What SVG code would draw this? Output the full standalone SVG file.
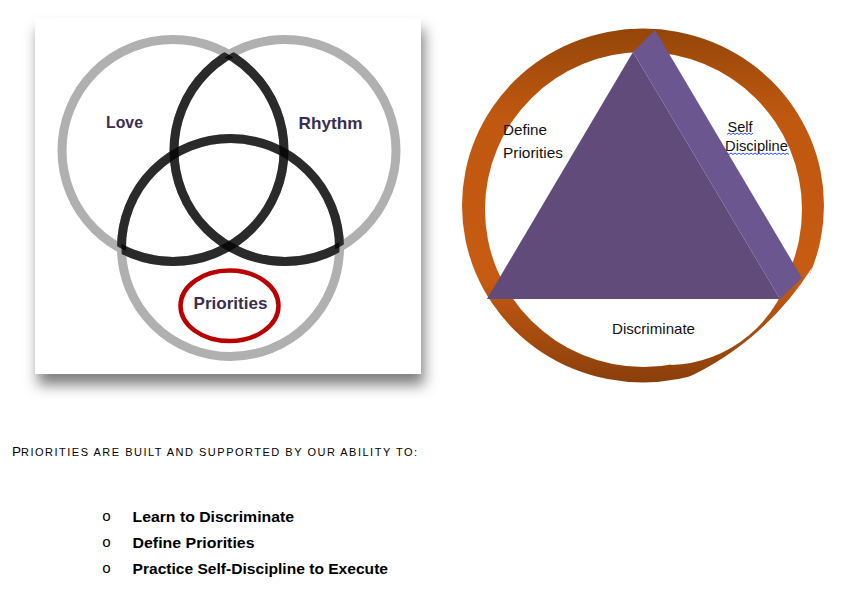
<svg xmlns="http://www.w3.org/2000/svg" width="863" height="589" viewBox="0 0 863 589">
<style>
.gray{fill:none;stroke:#b0b0b0;stroke-width:9}
.dark{fill:none;stroke:#000;stroke-opacity:0.76;stroke-width:9}
.vlabel{font-family:"Liberation Sans",Arial,sans-serif;font-weight:bold;font-size:17px;fill:#3a2e50}
.tlabel{font-family:"Liberation Sans",Arial,sans-serif;font-size:14.5px;fill:#111}
.wavy{fill:none;stroke:#2b4cf0;stroke-width:1}
.bullet{font-family:"Liberation Sans",Arial,sans-serif;font-weight:bold;font-size:15.5px;fill:#000}
.dot{font-family:"Liberation Mono","Courier New",monospace;font-size:15px;fill:#000}
</style>
<defs>
<filter id="shadow" x="-10%" y="-10%" width="125%" height="135%">
<feDropShadow dx="3" dy="11" stdDeviation="7" flood-color="#000" flood-opacity="0.5"/>
</filter>
<clipPath id="clipL"><circle cx="285" cy="150.5" r="111"/><circle cx="230.5" cy="247.5" r="109"/></clipPath>
<clipPath id="clipR"><circle cx="173" cy="150.5" r="111"/><circle cx="230.5" cy="247.5" r="109"/></clipPath>
<clipPath id="clipP"><circle cx="173" cy="150.5" r="111"/><circle cx="285" cy="150.5" r="111"/></clipPath>
<linearGradient id="ringGrad" x1="0" y1="0" x2="0" y2="1">
<stop offset="0" stop-color="#944608"/>
<stop offset="0.25" stop-color="#c05810"/>
<stop offset="0.7" stop-color="#c75b12"/>
<stop offset="1" stop-color="#8a3f0b"/>
</linearGradient>
</defs>
<rect width="863" height="589" fill="#fff"/>

<g id="venn-panel">
<rect x="35" y="18" width="386" height="356" fill="#fff" filter="url(#shadow)"/>
</g>

<g id="venn-love">
<circle class="gray" cx="173" cy="150.5" r="111"/>
</g>
<g id="venn-rhythm">
<circle class="gray" cx="285" cy="150.5" r="111"/>
</g>
<g id="venn-priorities">
<circle class="gray" cx="230.5" cy="247.5" r="109"/>
</g>
<g id="venn-overlaps">
<circle class="dark" cx="173" cy="150.5" r="111" clip-path="url(#clipL)"/>
<circle class="dark" cx="285" cy="150.5" r="111" clip-path="url(#clipR)"/>
<circle class="dark" cx="230.5" cy="247.5" r="109" clip-path="url(#clipP)"/>
</g>
<g id="label-love"><text class="vlabel" x="106" y="127.5" textLength="37" lengthAdjust="spacingAndGlyphs">Love</text></g>
<g id="label-rhythm"><text class="vlabel" x="298.5" y="128.5" textLength="64" lengthAdjust="spacingAndGlyphs">Rhythm</text></g>
<g id="label-priorities">
<ellipse cx="229.5" cy="305.8" rx="49" ry="35.3" fill="none" stroke="#bb0000" stroke-width="4.5"/>
<text class="vlabel" x="193.5" y="308.5" textLength="74" lengthAdjust="spacingAndGlyphs">Priorities</text>
</g>

<g id="ring">
<path fill="url(#ringGrad)" fill-rule="evenodd" d="M462,205.5 a181,177 0 1,0 362,0 a181,177 0 1,0 -362,0 Z M485,209.5 a158.5,157.5 0 1,0 317,0 a158.5,157.5 0 1,0 -317,0 Z"/>
<path fill="#fff" d="M812.1,267.6 A160,160 0 0,1 674.3,383.3 A294,294 0 0,0 812.1,267.6 Z"/>
<path fill="#fff" d="M792,263.5 A128,128 0 0,1 670.9,365.1 A182,182 0 0,1 792,263.5 Z"/>
</g>

<g id="triangle">
<polygon points="487,299 633,52 780,299" fill="#604b7b"/>
<polygon points="655,30 802,278 780,299 633,52" fill="#6b5690"/>
</g>

<g id="label-define"><text class="tlabel" x="503" y="134.5" textLength="44" lengthAdjust="spacingAndGlyphs">Define</text>
<text class="tlabel" x="503" y="157.5" textLength="60" lengthAdjust="spacingAndGlyphs">Priorities</text></g>
<g id="label-self">
<text class="tlabel" x="727.5" y="131.5" textLength="25" lengthAdjust="spacingAndGlyphs">Self</text>
<text class="tlabel" x="725" y="151" textLength="63" lengthAdjust="spacingAndGlyphs">Discipline</text>
<path class="wavy" d="M727,134.5 l2,-1.5 l2,1.5 l2,-1.5 l2,1.5 l2,-1.5 l2,1.5 l2,-1.5 l2,1.5 l2,-1.5 l2,1.5 l2,-1.5 l2,1.5 l2,-1.5"/>
<path class="wavy" d="M725,154.5 l2,-1.5 l2,1.5 l2,-1.5 l2,1.5 l2,-1.5 l2,1.5 l2,-1.5 l2,1.5 l2,-1.5 l2,1.5 l2,-1.5 l2,1.5 l2,-1.5 l2,1.5 l2,-1.5 l2,1.5 l2,-1.5 l2,1.5 l2,-1.5 l2,1.5 l2,-1.5 l2,1.5 l2,-1.5 l2,1.5 l2,-1.5 l2,1.5 l2,-1.5 l2,1.5 l2,-1.5 l2,1.5 l2,-1.5 l2,1.5"/>
</g>
<g id="label-discriminate"><text class="tlabel" x="612" y="333.5" textLength="83" lengthAdjust="spacingAndGlyphs">Discriminate</text></g>

<g id="connectors"/>

<g id="caption">
<text x="12" y="456" font-family="Liberation Sans, Arial, sans-serif" fill="#000"><tspan font-size="13.5px">P</tspan><tspan font-size="11px" letter-spacing="1.5">RIORITIES ARE BUILT AND SUPPORTED BY OUR ABILITY TO:</tspan></text>
</g>

<g id="bullets">
<text class="dot" x="102" y="521">o</text>
<text class="bullet" x="132.5" y="521.5" textLength="161.5" lengthAdjust="spacingAndGlyphs">Learn to Discriminate</text>
<text class="dot" x="102" y="547">o</text>
<text class="bullet" x="132.5" y="547.5" textLength="122" lengthAdjust="spacingAndGlyphs">Define Priorities</text>
<text class="dot" x="102" y="573">o</text>
<text class="bullet" x="132.5" y="573.5" textLength="255.5" lengthAdjust="spacingAndGlyphs">Practice Self-Discipline to Execute</text>
</g>
</svg>
